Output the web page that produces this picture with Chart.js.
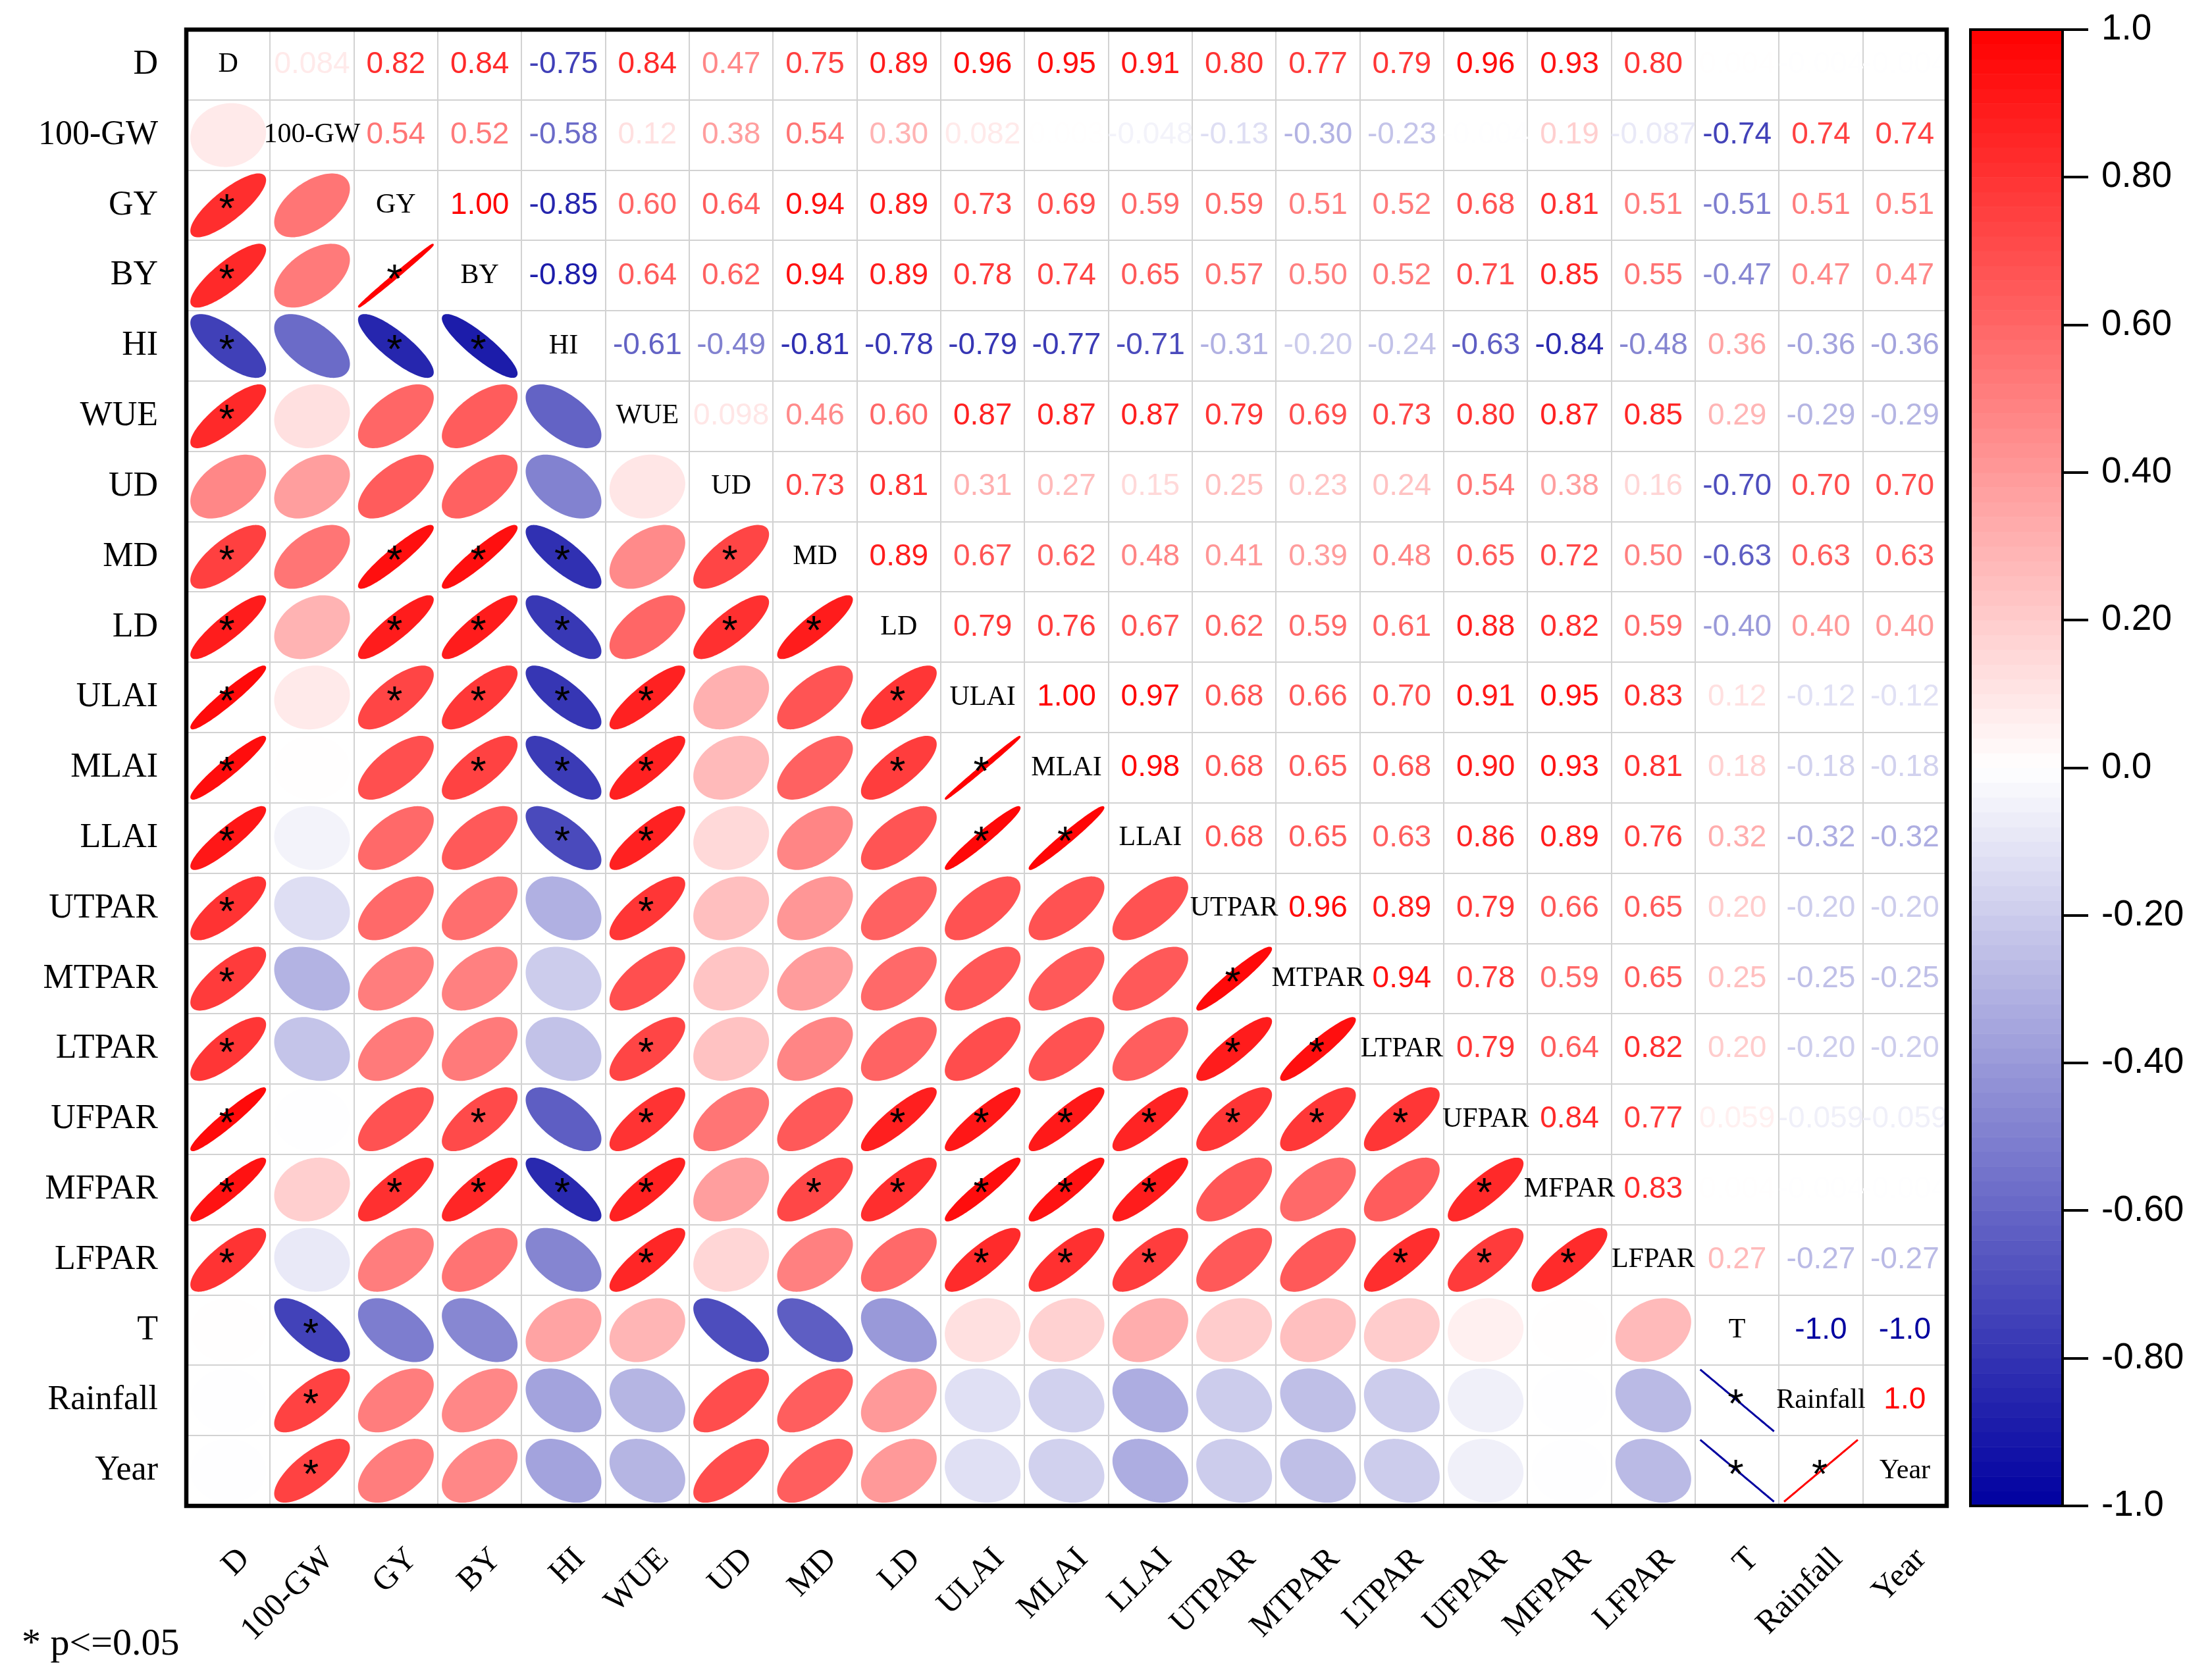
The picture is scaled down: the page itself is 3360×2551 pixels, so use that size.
<!DOCTYPE html>
<html>
<head>
<meta charset="utf-8">
<script src="https://cdn.jsdelivr.net/npm/chart.js@4.4.1/dist/chart.umd.min.js"></script>
<style>
  html, body { margin: 0; padding: 0; background: #fff; }
  #wrap { position: relative; width: 3360px; height: 2551px; overflow: hidden; }
  #corrChart { position: absolute; left: 0; top: 0; }
  #barChart { position: absolute; left: 2973px; top: 0; }
  #note { position: absolute; left: 33px; top: 2466px; font: 58px "Liberation Serif", "Times New Roman", serif; line-height: 58px; white-space: nowrap; }
</style>
</head>
<body>
<div id="wrap">
  <canvas id="corrChart" width="3360" height="2551"></canvas>
  <canvas id="barChart" width="387" height="2551"></canvas>
  <div id="note">* p&lt;=0.05</div>
</div>
<script>
// variables, in matrix order
const vars = ["D", "100-GW", "GY", "BY", "HI", "WUE", "UD", "MD", "LD", "ULAI", "MLAI", "LLAI",
  "UTPAR", "MTPAR", "LTPAR", "UFPAR", "MFPAR", "LFPAR", "T", "Rainfall", "Year"];

// upper triangle, one row per variable (correlation with every variable after it)
const rD        = [0.084, 0.82, 0.84, -0.75, 0.84, 0.47, 0.75, 0.89, 0.96, 0.95, 0.91, 0.80, 0.77, 0.79, 0.96, 0.93, 0.80, 0.004, -0.004, -0.004];
const r100GW    = [0.54, 0.52, -0.58, 0.12, 0.38, 0.54, 0.30, 0.082, 0.003, -0.048, -0.13, -0.30, -0.23, -0.004, 0.19, -0.087, -0.74, 0.74, 0.74];
const rGY       = [0.997, -0.85, 0.60, 0.64, 0.94, 0.89, 0.73, 0.69, 0.59, 0.59, 0.51, 0.52, 0.68, 0.81, 0.51, -0.51, 0.51, 0.51];
const rBY       = [-0.89, 0.64, 0.62, 0.94, 0.89, 0.78, 0.74, 0.65, 0.57, 0.50, 0.52, 0.71, 0.85, 0.55, -0.47, 0.47, 0.47];
const rHI       = [-0.61, -0.49, -0.81, -0.78, -0.79, -0.77, -0.71, -0.31, -0.20, -0.24, -0.63, -0.84, -0.48, 0.36, -0.36, -0.36];
const rWUE      = [0.098, 0.46, 0.60, 0.87, 0.87, 0.87, 0.79, 0.69, 0.73, 0.80, 0.87, 0.85, 0.29, -0.29, -0.29];
const rUD       = [0.73, 0.81, 0.31, 0.27, 0.15, 0.25, 0.23, 0.24, 0.54, 0.38, 0.16, -0.70, 0.70, 0.70];
const rMD       = [0.89, 0.67, 0.62, 0.48, 0.41, 0.39, 0.48, 0.65, 0.72, 0.50, -0.63, 0.63, 0.63];
const rLD       = [0.79, 0.76, 0.67, 0.62, 0.59, 0.61, 0.88, 0.82, 0.59, -0.40, 0.40, 0.40];
const rULAI     = [0.997, 0.97, 0.68, 0.66, 0.70, 0.91, 0.95, 0.83, 0.12, -0.12, -0.12];
const rMLAI     = [0.98, 0.68, 0.65, 0.68, 0.90, 0.93, 0.81, 0.18, -0.18, -0.18];
const rLLAI     = [0.68, 0.65, 0.63, 0.86, 0.89, 0.76, 0.32, -0.32, -0.32];
const rUTPAR    = [0.96, 0.89, 0.79, 0.66, 0.65, 0.20, -0.20, -0.20];
const rMTPAR    = [0.94, 0.78, 0.59, 0.65, 0.25, -0.25, -0.25];
const rLTPAR    = [0.79, 0.64, 0.82, 0.20, -0.20, -0.20];
const rUFPAR    = [0.84, 0.77, 0.059, -0.059, -0.059];
const rMFPAR    = [0.83, 0.004, -0.004, -0.004];
const rLFPAR    = [0.27, -0.27, -0.27];
const rT        = [-1.0, -1.0];
const rRainfall = [1.0];

// pairs marked with * (p<=0.05), [row, column] of the lower triangle
const sigPairs = [
  ["GY", "D"], ["BY", "D"], ["BY", "GY"], ["HI", "D"], ["HI", "GY"], ["HI", "BY"], ["WUE", "D"],
  ["MD", "D"], ["MD", "GY"], ["MD", "BY"], ["MD", "HI"], ["MD", "UD"],
  ["LD", "D"], ["LD", "GY"], ["LD", "BY"], ["LD", "HI"], ["LD", "UD"], ["LD", "MD"],
  ["ULAI", "D"], ["ULAI", "GY"], ["ULAI", "BY"], ["ULAI", "HI"], ["ULAI", "WUE"], ["ULAI", "LD"],
  ["MLAI", "D"], ["MLAI", "BY"], ["MLAI", "HI"], ["MLAI", "WUE"], ["MLAI", "LD"], ["MLAI", "ULAI"],
  ["LLAI", "D"], ["LLAI", "HI"], ["LLAI", "WUE"], ["LLAI", "ULAI"], ["LLAI", "MLAI"],
  ["UTPAR", "D"], ["UTPAR", "WUE"],
  ["MTPAR", "D"], ["MTPAR", "UTPAR"],
  ["LTPAR", "D"], ["LTPAR", "WUE"], ["LTPAR", "UTPAR"], ["LTPAR", "MTPAR"],
  ["UFPAR", "D"], ["UFPAR", "BY"], ["UFPAR", "WUE"], ["UFPAR", "LD"], ["UFPAR", "ULAI"], ["UFPAR", "MLAI"],
  ["UFPAR", "LLAI"], ["UFPAR", "UTPAR"], ["UFPAR", "MTPAR"], ["UFPAR", "LTPAR"],
  ["MFPAR", "D"], ["MFPAR", "GY"], ["MFPAR", "BY"], ["MFPAR", "HI"], ["MFPAR", "WUE"], ["MFPAR", "MD"],
  ["MFPAR", "LD"], ["MFPAR", "ULAI"], ["MFPAR", "MLAI"], ["MFPAR", "LLAI"], ["MFPAR", "UFPAR"],
  ["LFPAR", "D"], ["LFPAR", "WUE"], ["LFPAR", "ULAI"], ["LFPAR", "MLAI"], ["LFPAR", "LLAI"],
  ["LFPAR", "LTPAR"], ["LFPAR", "UFPAR"], ["LFPAR", "MFPAR"],
  ["T", "100-GW"], ["Rainfall", "100-GW"], ["Rainfall", "T"],
  ["Year", "100-GW"], ["Year", "T"], ["Year", "Rainfall"]
];

// colour bar ticks
const cbTicks = [-1.0, -0.8, -0.6, -0.4, -0.2, 0.0, 0.2, 0.4, 0.6, 0.8, 1.0];

const upperRows = [rD, r100GW, rGY, rBY, rHI, rWUE, rUD, rMD, rLD, rULAI, rMLAI, rLLAI,
  rUTPAR, rMTPAR, rLTPAR, rUFPAR, rMFPAR, rLFPAR, rT, rRainfall];

// full symmetric matrix from the rows
const n = vars.length;
const corr = vars.map(() => new Array(n).fill(1));
upperRows.forEach((row, i) => {
  row.forEach((v, k) => {
    const j = i + 1 + k;
    corr[i][j] = v;
    corr[j][i] = v;
  });
});
const sigSet = new Set(sigPairs.map(p => p[0] + "|" + p[1]));

// white -> red for positive, white -> navy for negative
function corrColor(v) {
  const a = Math.min(1, Math.abs(v));
  let r, g, b;
  if (v >= 0) {
    r = 255; g = 255 * (1 - a); b = 255 * (1 - a);
  } else {
    r = 255 * (1 - a); g = 255 * (1 - a); b = 255 * (1 - a) + 160 * a;
  }
  return "rgb(" + Math.round(r) + "," + Math.round(g) + "," + Math.round(b) + ")";
}

function fmt(v) {
  if (Math.abs(v) === 1) return v.toFixed(1);
  if (Math.abs(v) < 0.01) return v.toFixed(3);
  if (Math.abs(v) < 0.1) return v.toPrecision(2);
  return v.toFixed(2);
}

const lowerPts = [], upperPts = [], diagPts = [];
for (let i = 0; i < n; i++) {
  for (let j = 0; j < n; j++) {
    const p = { x: vars[j], y: vars[i], v: corr[i][j] };
    if (j < i) {
      p.sig = sigSet.has(vars[i] + "|" + vars[j]);
      lowerPts.push(p);
    } else if (j > i) {
      upperPts.push(p);
    } else {
      diagPts.push(p);
    }
  }
}

const SERIF = "'Liberation Serif', 'Times New Roman', serif";
const SANS = "'Liberation Sans', Arial, sans-serif";
Chart.defaults.font.family = SANS;

function drawEllipse(ctx, cx, cy, hw, hh, r, color) {
  const d = Math.acos(Math.max(-1, Math.min(1, r)));
  ctx.beginPath();
  for (let k = 0; k <= 120; k++) {
    const t = k / 120 * 2 * Math.PI;
    const px = cx + Math.cos(t + d / 2) * hw;
    const py = cy - Math.cos(t - d / 2) * hh;
    if (k === 0) ctx.moveTo(px, py); else ctx.lineTo(px, py);
  }
  ctx.closePath();
  ctx.fillStyle = color;
  ctx.fill();
  ctx.strokeStyle = color;
  ctx.lineWidth = 3;
  ctx.stroke();
}

const cellPlugin = {
  id: "cells",
  afterDatasetsDraw(chart) {
    const ctx = chart.ctx;
    const xs = chart.scales.x, ys = chart.scales.y;
    const cw = Math.abs(xs.getPixelForValue(1) - xs.getPixelForValue(0));
    const ch = Math.abs(ys.getPixelForValue(1) - ys.getPixelForValue(0));
    ctx.save();
    chart.data.datasets.forEach((ds, di) => {
      const meta = chart.getDatasetMeta(di);
      meta.data.forEach((el, k) => {
        const p = ds.data[k];
        const cx = el.x, cy = el.y;
        if (ds.kind === "ellipse") {
          drawEllipse(ctx, cx, cy, cw * 0.44, ch * 0.44, p.v, corrColor(p.v));
          if (p.sig) {
            ctx.fillStyle = "#000";
            ctx.font = "62px " + SANS;
            ctx.textAlign = "center";
            ctx.textBaseline = "alphabetic";
            ctx.fillText("*", cx - 2, cy + 25);
          }
        } else if (ds.kind === "value") {
          ctx.fillStyle = corrColor(p.v);
          ctx.font = "46px " + SANS;
          ctx.textAlign = "center";
          ctx.textBaseline = "middle";
          ctx.fillText(fmt(p.v), cx, cy);
        } else {
          ctx.fillStyle = "#000";
          ctx.font = "42px " + SERIF;
          ctx.textAlign = "center";
          ctx.textBaseline = "middle";
          ctx.fillText(p.x, cx, cy);
        }
      });
    });
    ctx.restore();
  },
  afterDraw(chart) {
    const a = chart.chartArea, ctx = chart.ctx;
    ctx.save();
    ctx.strokeStyle = "#000";
    ctx.lineWidth = 6.5;
    ctx.strokeRect(a.left, a.top, a.right - a.left, a.bottom - a.top);
    ctx.restore();
  }
};

const gridOpts = { offset: true, color: "#d2d2d2", lineWidth: 2, drawTicks: false };

new Chart(document.getElementById("corrChart"), {
  type: "scatter",
  data: {
    datasets: [
      { kind: "ellipse", data: lowerPts, pointRadius: 0 },
      { kind: "value", data: upperPts, pointRadius: 0 },
      { kind: "diag", data: diagPts, pointRadius: 0 }
    ]
  },
  options: {
    responsive: false,
    animation: false,
    devicePixelRatio: 1,
    events: [],
    layout: { padding: { left: 0, top: 45, right: 403, bottom: 0 } },
    plugins: { legend: { display: false }, tooltip: { enabled: false } },
    scales: {
      x: {
        type: "category",
        labels: vars,
        offset: true,
        position: "bottom",
        grid: gridOpts,
        border: { display: false },
        ticks: {
          autoSkip: false, minRotation: 45, maxRotation: 45,
          color: "#000", font: { family: SERIF, size: 50 },
          padding: 52, labelOffset: 25
        },
        afterFit: s => { s.height = 263; s.paddingLeft = 0; s.paddingRight = 0; }
      },
      y: {
        type: "category",
        labels: vars,
        offset: true,
        position: "left",
        grid: gridOpts,
        border: { display: false },
        ticks: {
          autoSkip: false, color: "#000", font: { family: SERIF, size: 52 },
          padding: 43
        },
        afterFit: s => { s.width = 283; s.paddingTop = 0; s.paddingBottom = 0; }
      }
    }
  },
  plugins: [cellPlugin]
});

// colour bar, drawn against its own linear axis
const barPlugin = {
  id: "colorbar",
  beforeDatasetsDraw(chart) {
    const a = chart.chartArea, ctx = chart.ctx, ys = chart.scales.y;
    const steps = 100;
    ctx.save();
    for (let k = 0; k < steps; k++) {
      const v0 = -1 + 2 * k / steps, v1 = -1 + 2 * (k + 1) / steps;
      const yTop = ys.getPixelForValue(v1), yBot = ys.getPixelForValue(v0);
      ctx.fillStyle = corrColor((v0 + v1) / 2);
      ctx.fillRect(a.left, yTop, a.right - a.left, yBot - yTop + 0.5);
    }
    ctx.strokeStyle = "#000";
    ctx.lineWidth = 4;
    ctx.strokeRect(a.left, a.top, a.right - a.left, a.bottom - a.top);
    ctx.restore();
  }
};

new Chart(document.getElementById("barChart"), {
  type: "scatter",
  data: { datasets: [] },
  options: {
    responsive: false,
    animation: false,
    devicePixelRatio: 1,
    events: [],
    layout: { padding: { left: 20, top: 45, right: 0, bottom: 263 } },
    plugins: { legend: { display: false }, tooltip: { enabled: false } },
    scales: {
      x: { type: "linear", display: false },
      y: {
        type: "linear",
        position: "right",
        min: -1, max: 1,
        afterBuildTicks: s => { s.ticks = cbTicks.map(v => ({ value: v })); },
        ticks: {
          color: "#000", font: { family: SANS, size: 55 }, padding: 20,
          callback: v => {
            const r = Math.round(v * 10) / 10;
            return (Math.abs(r) === 1 || r === 0) ? r.toFixed(1) : r.toFixed(2);
          }
        },
        grid: { drawOnChartArea: false, drawTicks: true, tickLength: 39, tickColor: "#000", tickWidth: 4, color: "#000", lineWidth: 4 },
        border: { display: true, color: "#000", width: 4 },
        afterFit: s => { s.width = 227; s.paddingTop = 0; s.paddingBottom = 0; }
      }
    }
  },
  plugins: [barPlugin]
});
</script>
</body>
</html>
